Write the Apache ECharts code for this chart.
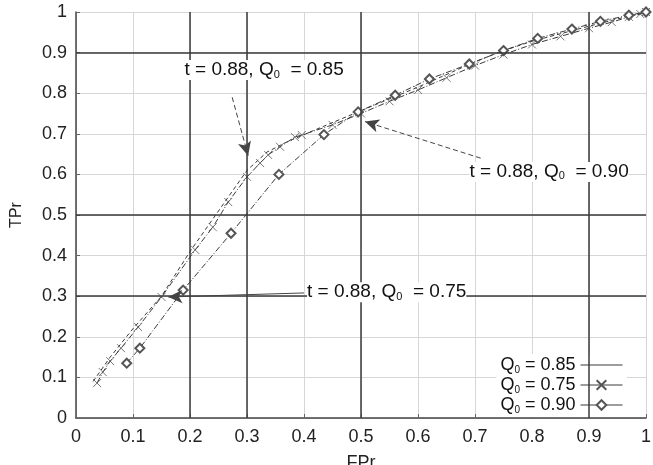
<!DOCTYPE html>
<html lang="en">
<head>
    <meta charset="UTF-8">
    <title>TPr / FPr</title>
    <script type="text/javascript" src="https://cdn.jsdelivr.net/npm/echarts@6/dist/echarts.min.js"></script>
    <style>html,body{margin:0;padding:0;background:#fff;}</style>
</head>
<body>
<div id="main" style="width: 653px; height: 465px"></div>

<script type="text/javascript">
    var myChart = echarts.init(document.getElementById('main'));

    // data
    var fpr085 = [0.03, 0.06, 0.1, 0.15, 0.2, 0.25, 0.3, 0.335, 0.37, 0.42, 0.5, 0.6, 0.7, 0.74, 0.8, 0.9, 0.97, 1.0];
    var tpr085 = [0.09, 0.15, 0.22, 0.3, 0.41, 0.51, 0.61, 0.655, 0.68, 0.71, 0.757, 0.815, 0.877, 0.9, 0.928, 0.965, 0.99, 1.0];

    var fpr075 = [0.037, 0.047, 0.06, 0.079, 0.109, 0.15, 0.209, 0.24, 0.267, 0.3, 0.323, 0.337, 0.358, 0.384, 0.396, 0.45, 0.5, 0.55, 0.6, 0.65, 0.7, 0.75, 0.8, 0.85, 0.9, 0.94, 0.97, 0.99, 1.0];
    var tpr075 = [0.086, 0.113, 0.14, 0.172, 0.224, 0.298, 0.414, 0.47, 0.532, 0.594, 0.628, 0.648, 0.668, 0.692, 0.697, 0.722, 0.75, 0.78, 0.808, 0.838, 0.868, 0.895, 0.92, 0.94, 0.96, 0.975, 0.988, 0.995, 1.0];

    var fpr090 = [0.089, 0.112, 0.188, 0.272, 0.356, 0.435, 0.495, 0.56, 0.62, 0.69, 0.75, 0.81, 0.87, 0.92, 0.97, 1.0];
    var tpr090 = [0.135, 0.172, 0.315, 0.455, 0.6, 0.698, 0.754, 0.795, 0.835, 0.872, 0.905, 0.935, 0.958, 0.977, 0.992, 1.0];

    var seriesNames = ['0.85', '0.75', '0.90'];
    var majorX = [0.2, 0.3, 0.5, 0.9];
    var majorY = [0.3, 0.5, 0.9];

    function pairs(xs, ys) {
        var out = [];
        for (var i = 0; i < xs.length; i++) {
            out.push([xs[i], ys[i]]);
        }
        return out;
    }

    var fontName = 'Liberation Sans';
    var ink = '#3a3a3a';

    var majorLines = [];
    for (var i = 0; i < majorX.length; i++) majorLines.push({xAxis: majorX[i]});
    for (var j = 0; j < majorY.length; j++) majorLines.push({yAxis: majorY[j]});

    var arrowStyle = {color: '#444', width: 1, type: [5, 3]};
    var arrows = [
        [{coord: [0.274, 0.79], lineStyle: arrowStyle}, {coord: [0.302, 0.646]}],
        [{coord: [0.71, 0.64], lineStyle: arrowStyle}, {coord: [0.507, 0.73]}],
        [{coord: [0.4, 0.308], lineStyle: {color: '#444', width: 1, type: 'solid'}}, {coord: [0.162, 0.298]}]
    ];

    var noteRich = {
        t: {fontSize: 19, fontFamily: fontName, color: '#111'},
        s: {fontSize: 11, fontFamily: fontName, color: '#111', verticalAlign: 'bottom', padding: [9, 0, 0, 0]}
    };
    function note(x, y, q) {
        return {
            coord: [x, y],
            symbol: 'circle',
            symbolSize: 0,
            label: {
                show: true,
                position: 'inside',
                formatter: '{t|t = 0.88, Q}{s|0}{t|  = ' + q + '}',
                rich: noteRich,
                backgroundColor: '#fff'
            }
        };
    }

    option = {
        animation: false,
        grid: {left: 76, right: 7, top: 12, bottom: 47, outerBoundsMode: 'none', containLabel: false},
        xAxis: {
            type: 'value',
            min: 0,
            max: 1,
            interval: 0.1,
            name: 'FPr',
            nameLocation: 'middle',
            nameGap: 36,
            nameTextStyle: {fontSize: 18, fontFamily: fontName, color: '#222'},
            axisLine: {lineStyle: {color: '#444', width: 1.5}},
            axisTick: {inside: true, length: 4, lineStyle: {color: '#666'}},
            axisLabel: {fontSize: 18, fontFamily: fontName, color: '#222', margin: 10},
            splitLine: {show: true, lineStyle: {color: '#d6d6d6', width: 1}}
        },
        yAxis: {
            type: 'value',
            min: 0,
            max: 1,
            interval: 0.1,
            name: 'TPr',
            nameLocation: 'middle',
            nameGap: 51,
            nameTextStyle: {fontSize: 16, fontFamily: fontName, color: '#222'},
            axisLine: {show: true, lineStyle: {color: '#444', width: 1.5}},
            axisTick: {show: true, inside: true, length: 4, lineStyle: {color: '#666'}},
            axisLabel: {fontSize: 18, fontFamily: fontName, color: '#222', margin: 9},
            splitLine: {show: true, lineStyle: {color: '#d6d6d6', width: 1}}
        },
        legend: {
            orient: 'vertical',
            right: 26,
            top: 354,
            align: 'right',
            itemWidth: 42,
            itemHeight: 12,
            itemGap: 1,
            backgroundColor: '#fff',
            padding: [2, 4, 2, 4],
            lineStyle: {type: 'solid', width: 1},
            data: [
                {name: 'Q0 = ' + seriesNames[0], itemStyle: {opacity: 0}},
                {name: 'Q0 = ' + seriesNames[1]},
                {name: 'Q0 = ' + seriesNames[2]}
            ],
            formatter: function (name) {
                return '{a|Q}{b|0}{a| = ' + name.slice(5) + '}';
            },
            textStyle: {
                rich: {
                    a: {fontSize: 18, fontFamily: fontName, color: '#111', lineHeight: 20},
                    b: {fontSize: 10, fontFamily: fontName, color: '#111', verticalAlign: 'bottom', padding: [8, 0, 0, 0]}
                }
            }
        },
        series: [
            {
                name: 'Q0 = ' + seriesNames[0],
                type: 'line',
                data: pairs(fpr085, tpr085),
                symbol: 'none',
                lineStyle: {color: ink, width: 1, type: [4, 3]},
                itemStyle: {color: ink},
                markLine: {
                    silent: true,
                    symbol: 'none',
                    label: {show: false},
                    lineStyle: {color: '#3a3a3a', width: 1.5, type: 'solid'},
                    data: majorLines
                }
            },
            {
                name: 'Q0 = ' + seriesNames[1],
                type: 'line',
                data: pairs(fpr075, tpr075),
                symbol: 'path://M0,0L10,10M10,0L0,10',
                symbolSize: 8,
                lineStyle: {color: ink, width: 1, type: [6, 2, 1, 2]},
                itemStyle: {color: 'none', borderColor: '#555', borderWidth: 0.8},
                markLine: {
                    silent: true,
                    symbol: ['none', 'arrow'],
                    symbolSize: [10, 14],
                    label: {show: false},
                    data: arrows
                }
            },
            {
                name: 'Q0 = ' + seriesNames[2],
                type: 'line',
                data: pairs(fpr090, tpr090),
                symbol: 'emptyDiamond',
                symbolSize: 9,
                lineStyle: {color: ink, width: 1, type: [6, 2, 1, 2]},
                itemStyle: {color: '#555', borderColor: '#555', borderWidth: 0.8},
                markPoint: {
                    silent: true,
                    data: [
                        note(0.33, 0.857, '0.85'),
                        note(0.83, 0.606, '0.90'),
                        note(0.545, 0.31, '0.75')
                    ]
                }
            }
        ]
    };

    myChart.setOption(option);
</script>
</body>
</html>
